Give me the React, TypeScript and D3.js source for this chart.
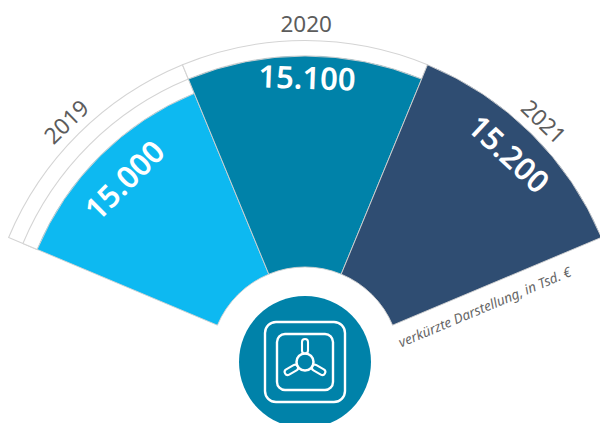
import React from "react";
import * as d3 from "d3";

const years = ["2019", "2020", "2021"];
const values = [15000, 15100, 15200];
const valueLabels = ["15.000", "15.100", "15.200"];
const colors = ["#0db9f1", "#0082a9", "#2f4d72"];
const note = "verkürzte Darstellung, in Tsd. €";

const W = 600, H = 423, cx = 305, cy = 362;
const rad = (d: number) => (d * Math.PI) / 180;
const angle = d3.scaleBand<string>().domain(years).range([rad(-67.2), rad(67.2)]);
const radius = d3.scaleLinear().domain([15000, 15200]).range([290.5, 321.5]);
const inner = 95;
const arc = d3.arc<any>();
const FONT = "'Noto Sans', 'Open Sans', sans-serif";

function polar(r: number, deg: number) {
  return [cx + r * Math.sin(rad(deg)), cy - r * Math.cos(rad(deg))];
}

function placed(r: number, deg: number, rot = deg) {
  const [x, y] = polar(r, deg);
  return `translate(${x},${y}) rotate(${rot})`;
}

const valuePlace = [
  { r: 257, deg: -44.8, rot: -45 },
  { r: 285, deg: 0.4, rot: 2 },
  { r: 292, deg: 44.4, rot: 43 },
];
const yearPlace = [
  { r: 339, deg: -44.8, rot: -44 },
  { r: 339, deg: 0.2, rot: 0 },
  { r: 339, deg: 44.8, rot: 44 },
];

export default function App() {
  const bw = angle.bandwidth();
  return (
    <svg width={W} height={H} viewBox={`0 0 ${W} ${H}`} style={{ position: "fixed", left: 0, top: 0, display: "block", background: "#fff" }}>
      <g transform={`translate(${cx},${cy})`}>
        {years.map((y, i) =>
          values
            .slice(i + 1)
            .reverse()
            .map((v) => {
              const a0 = angle(y)!;
              return (
                <path
                  key={y + v}
                  d={arc({ innerRadius: radius(values[i]), outerRadius: radius(v), startAngle: a0, endAngle: a0 + bw })!}
                  fill="#fff"
                  stroke="#d4d4d4"
                  strokeWidth={1.1}
                />
              );
            })
        )}
        {years.map((y, i) => {
          const a0 = angle(y)!;
          return (
            <path
              key={y}
              d={arc({ innerRadius: inner, outerRadius: radius(values[i]), startAngle: a0, endAngle: a0 + bw })!}
              fill={colors[i]}
              stroke="#d2d2d2"
              strokeWidth={0.9}
            />
          );
        })}
      </g>
      {years.map((y, i) => (
        <text key={y} transform={placed(yearPlace[i].r, yearPlace[i].deg, yearPlace[i].rot)} textAnchor="middle" dominantBaseline="central" fontFamily={FONT} fontSize={22.5} fill="#5c5c5c">
          {y}
        </text>
      ))}
      {valueLabels.map((t, i) => (
        <text key={t} transform={placed(valuePlace[i].r, valuePlace[i].deg, valuePlace[i].rot)} textAnchor="middle" dominantBaseline="central" fontFamily={FONT} fontWeight={600} fontSize={31} fill="#fff">
          {t}
        </text>
      ))}
      <text transform="translate(484.5,306.5) rotate(-22.8)" textAnchor="middle" dominantBaseline="central" fontFamily={FONT} fontStyle="italic" fontSize={13.6} fill="#666666">
        {note}
      </text>
      <circle cx={cx} cy={cy} r={66} fill="#0082a9" />
      <g transform={`translate(${cx},${cy})`} fill="none" stroke="#fff" strokeWidth={2.4}>
        <rect x={-40} y={-40} width={80} height={80} rx={11} />
        <rect x={-28} y={-28} width={56} height={56} rx={8} />
        <circle r={8.5} strokeWidth={2.5} />
        {[0, 120, 240].map((a) => (
          <g key={a} transform={`rotate(${a})`}>
            <rect x={-3} y={-23} width={6} height={14.5} rx={3} strokeWidth={2.1} />
          </g>
        ))}
      </g>
    </svg>
  );
}
